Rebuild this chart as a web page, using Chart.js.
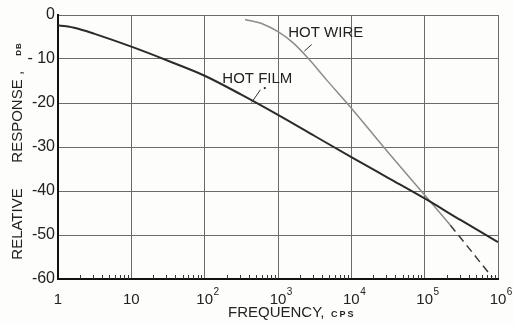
<!DOCTYPE html>
<html>
<head>
<meta charset="utf-8">
<script src="https://cdn.jsdelivr.net/npm/chart.js@4/dist/chart.umd.min.js"></script>
<style>
  html, body { margin: 0; background: #fdfdfb; }
  canvas { display: block; }
</style>
</head>
<body>
<canvas id="chart" width="514" height="325"></canvas>
<script>
// frequency (cps) vs relative response (dB)
const filmFreq = [1, 1.78, 3.16, 10, 31.6, 100, 316, 1000, 3162, 10000, 31620, 100000, 316200, 1000000];
const filmDb = [-2.3, -3.0, -4.3, -7.2, -10.4, -13.8, -18.1, -22.7, -27.5, -32.3, -37.0, -41.7, -46.7, -51.6];

const wireFreq = [355, 631, 1000, 1622, 2630, 4624, 8710, 31620, 119000, 224000, 832000];
const wireDb = [-1.0, -2.1, -3.8, -6.4, -10.0, -14.8, -20.0, -31.2, -42.4, -47.8, -59.6];
const wireDashFrom = 224000; // extrapolated part is dashed

const xTicks = [1, 10, 100, 1e3, 1e4, 1e5, 1e6];
const xTickBase = ['1', '10', '10', '10', '10', '10', '10'];
const xTickExp = ['', '', '2', '3', '4', '5', '6'];
const yTicks = [0, -10, -20, -30, -40, -50, -60];
const yTickLabels = ['0', '- 10', '-20', '-30', '-40', '-50', '-60'];

const notes = [
  { text: 'HOT WIRE', x: 1380, y: -4.0, lead: [[2880, -6.7], [2290, -8.2]] },
  { text: 'HOT FILM', x: 174, y: -14.5, lead: [[575, -17.0], [436, -19.9]], dot: [660, -16.6] }
];

const FONT = '"Liberation Sans", Arial, sans-serif';
const INK = '#222';

const decor = {
  id: 'decor',
  afterDraw(chart) {
    const { ctx, chartArea: a, scales: { x, y } } = chart;
    ctx.save();

    // minor ticks along the bottom axis
    ctx.strokeStyle = '#333';
    ctx.lineWidth = 1;
    for (let d = 1; d < 1e6; d *= 10) {
      for (let m = 2; m <= 9; m++) {
        const px = Math.round(x.getPixelForValue(d * m)) + 0.5;
        ctx.beginPath();
        ctx.moveTo(px, a.bottom);
        ctx.lineTo(px, a.bottom - 4);
        ctx.stroke();
      }
    }

    // x tick labels with exponents
    ctx.fillStyle = INK;
    ctx.textBaseline = 'middle';
    xTicks.forEach((v, i) => {
      const px = x.getPixelForValue(v);
      ctx.font = '15px ' + FONT;
      ctx.textAlign = 'center';
      ctx.fillText(xTickBase[i], px, 300);
      if (xTickExp[i]) {
        const w = ctx.measureText(xTickBase[i]).width;
        ctx.font = '10px ' + FONT;
        ctx.textAlign = 'left';
        ctx.fillText(xTickExp[i], px + w / 2 + 0.5, 292);
      }
    });

    // x axis title
    ctx.textAlign = 'left';
    ctx.font = '15px ' + FONT;
    ctx.fillText('FREQUENCY,', 228, 313);
    ctx.font = 'bold 9px ' + FONT;
    ctx.letterSpacing = '2px';
    ctx.fillText('CPS', 331, 315);
    ctx.letterSpacing = '0px';

    // y axis title, rotated
    ctx.save();
    ctx.translate(18, 0);
    ctx.rotate(-Math.PI / 2);
    ctx.font = '15px ' + FONT;
    ctx.textAlign = 'center';
    ctx.fillText('RELATIVE', -224, 0);
    ctx.fillText('RESPONSE', -121, 0);
    ctx.fillText(',', -73, 0);
    ctx.font = 'bold 8px ' + FONT;
    ctx.letterSpacing = '1px';
    ctx.fillText('DB', -49, 1);
    ctx.restore();

    // curve labels and leaders
    notes.forEach((n) => {
      ctx.font = '15px ' + FONT;
      ctx.textAlign = 'left';
      ctx.fillStyle = INK;
      ctx.fillText(n.text, x.getPixelForValue(n.x), y.getPixelForValue(n.y));
      ctx.strokeStyle = '#333';
      ctx.lineWidth = 1;
      ctx.beginPath();
      ctx.moveTo(x.getPixelForValue(n.lead[0][0]), y.getPixelForValue(n.lead[0][1]));
      ctx.lineTo(x.getPixelForValue(n.lead[1][0]), y.getPixelForValue(n.lead[1][1]));
      ctx.stroke();
      if (n.dot) {
        ctx.beginPath();
        ctx.arc(x.getPixelForValue(n.dot[0]), y.getPixelForValue(n.dot[1]), 1.1, 0, Math.PI * 2);
        ctx.fill();
      }
    });

    ctx.restore();
  }
};

new Chart(document.getElementById('chart'), {
  type: 'line',
  data: {
    datasets: [
      {
        label: 'Hot film',
        data: filmFreq.map((f, i) => ({ x: f, y: filmDb[i] })),
        borderColor: '#2b2b2b',
        borderWidth: 2,
        pointRadius: 0,
        cubicInterpolationMode: 'monotone'
      },
      {
        label: 'Hot wire',
        data: wireFreq.map((f, i) => ({ x: f, y: wireDb[i] })),
        borderColor: '#8c8c8c',
        borderWidth: 1.5,
        pointRadius: 0,
        cubicInterpolationMode: 'monotone',
        segment: {
          borderDash: (c) => (c.p0.parsed.x >= wireDashFrom ? [8, 5] : undefined),
          borderColor: (c) => (c.p0.parsed.x >= wireDashFrom ? '#3a3a3a' : undefined)
        }
      }
    ]
  },
  options: {
    responsive: false,
    animation: false,
    layout: { padding: { top: 15, right: 16, left: 0, bottom: 0 } },
    plugins: { legend: { display: false }, tooltip: { enabled: false } },
    scales: {
      x: {
        type: 'logarithmic',
        min: 1,
        max: 1e6,
        afterBuildTicks: (s) => { s.ticks = xTicks.map((v) => ({ value: v, major: true })); },
        afterFit: (s) => { s.height = 46; },
        ticks: { display: false },
        grid: { color: '#6a6a6a', lineWidth: 1, drawTicks: false },
        border: { color: '#111', width: 2 }
      },
      y: {
        min: -60,
        max: 0,
        afterBuildTicks: (s) => { s.ticks = yTicks.map((v) => ({ value: v })); },
        afterFit: (s) => { s.width = 58; },
        ticks: {
          callback: (v) => yTickLabels[yTicks.indexOf(v)],
          font: { family: FONT, size: 16 },
          color: INK,
          padding: 3
        },
        grid: { color: '#6a6a6a', lineWidth: 1, drawTicks: false },
        border: { color: '#111', width: 2 }
      }
    }
  },
  plugins: [decor]
});
</script>
</body>
</html>
